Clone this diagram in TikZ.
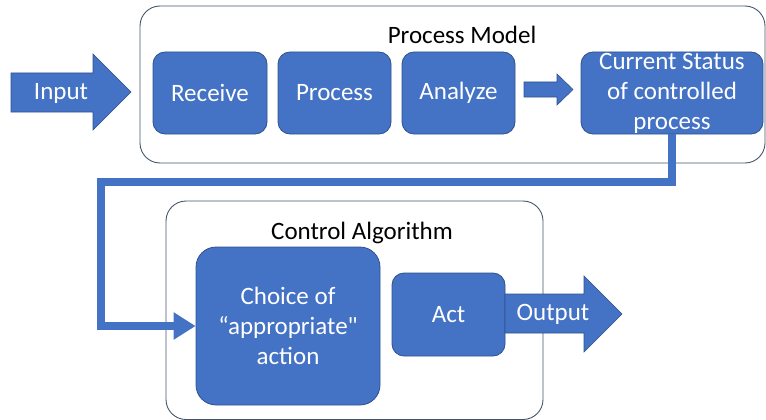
\documentclass[tikz,border=0pt]{standalone}
\usepackage{fontspec}
\setmainfont{Carlito}[Ligatures=TeXOff]
\usetikzlibrary{arrows.meta}
\definecolor{ofblue}{HTML}{4472C4}
\definecolor{ofedge}{HTML}{2F528F}
\definecolor{grpedge}{HTML}{44546A}
\tikzset{
  grp/.style={draw=grpedge, line width=0.9pt, rounded corners=20pt},
  blk/.style={draw=ofedge, line width=0.8pt, fill=ofblue, rounded corners=#1, text=white, font=\fontsize{25}{30}\selectfont, align=center, inner sep=0pt},
  blk/.default=12pt,
  ttl/.style={font=\fontsize{25}{30}\selectfont, text=black, inner sep=0pt},
  barrow/.style={fill=ofblue, draw=ofedge, line width=0.6pt, line join=miter},
  atxt/.style={text=white, font=\fontsize{25}{30}\selectfont, inner sep=0pt},
  fb/.style={draw=ofblue, line width=8pt, line join=miter, -{Triangle[length=22pt,width=26pt]}},
}
\begin{document}
\begin{tikzpicture}[x=1pt,y=-1pt]
\useasboundingbox (0,0) rectangle (766,420);
% group boxes
\draw[grp] (140,6) rectangle (765,163);
\draw[grp] (166,201) rectangle (543,419.5);
\node[ttl] (pmt) at (462,35) {Process Model};
\node[ttl] (cat) at (362,233) {Control Algorithm};
% input block arrow
\draw[barrow] (11,73) -- (93,73) -- (93,54) -- (131,92) -- (93,130) -- (93,112) -- (11,112) -- cycle;
\node[atxt] (inp) at (61,93) {Input};
% process model blocks
\node[blk, minimum width=114pt, minimum height=82pt] (rcv) at (210,93) {Receive};
\node[blk, minimum width=113pt, minimum height=82pt] (prc) at (334.5,93) {Process};
\node[blk, minimum width=113pt, minimum height=82pt] (anl) at (458.5,93) {Analyze};
\node[blk, minimum width=182pt, minimum height=82pt] (cs) at (672,93) {Current Status\\of controlled\\process};
% small block arrow
\draw[barrow] (524,82) -- (557,82) -- (557,74) -- (573,89.5) -- (557,105) -- (557,97) -- (524,97) -- cycle;
% control algorithm blocks
\node[blk=20pt, minimum width=184pt, minimum height=158pt] (ch) at (288,326) {Choice of\\“appropriate"\\action};
\node[blk, minimum width=113pt, minimum height=83pt] (act) at (448.5,314.5) {Act};
% output block arrow
\draw[barrow] (505,294) -- (584,294) -- (584,276) -- (622,314) -- (584,352) -- (584,333) -- (505,333) -- cycle;
\node[atxt] (out) at (553,314) {Output};
% feedback connector
\coordinate (k1) at (101,182);
\draw[fb] (cs.south) |- (k1) |- (ch.west);
\end{tikzpicture}
\end{document}
